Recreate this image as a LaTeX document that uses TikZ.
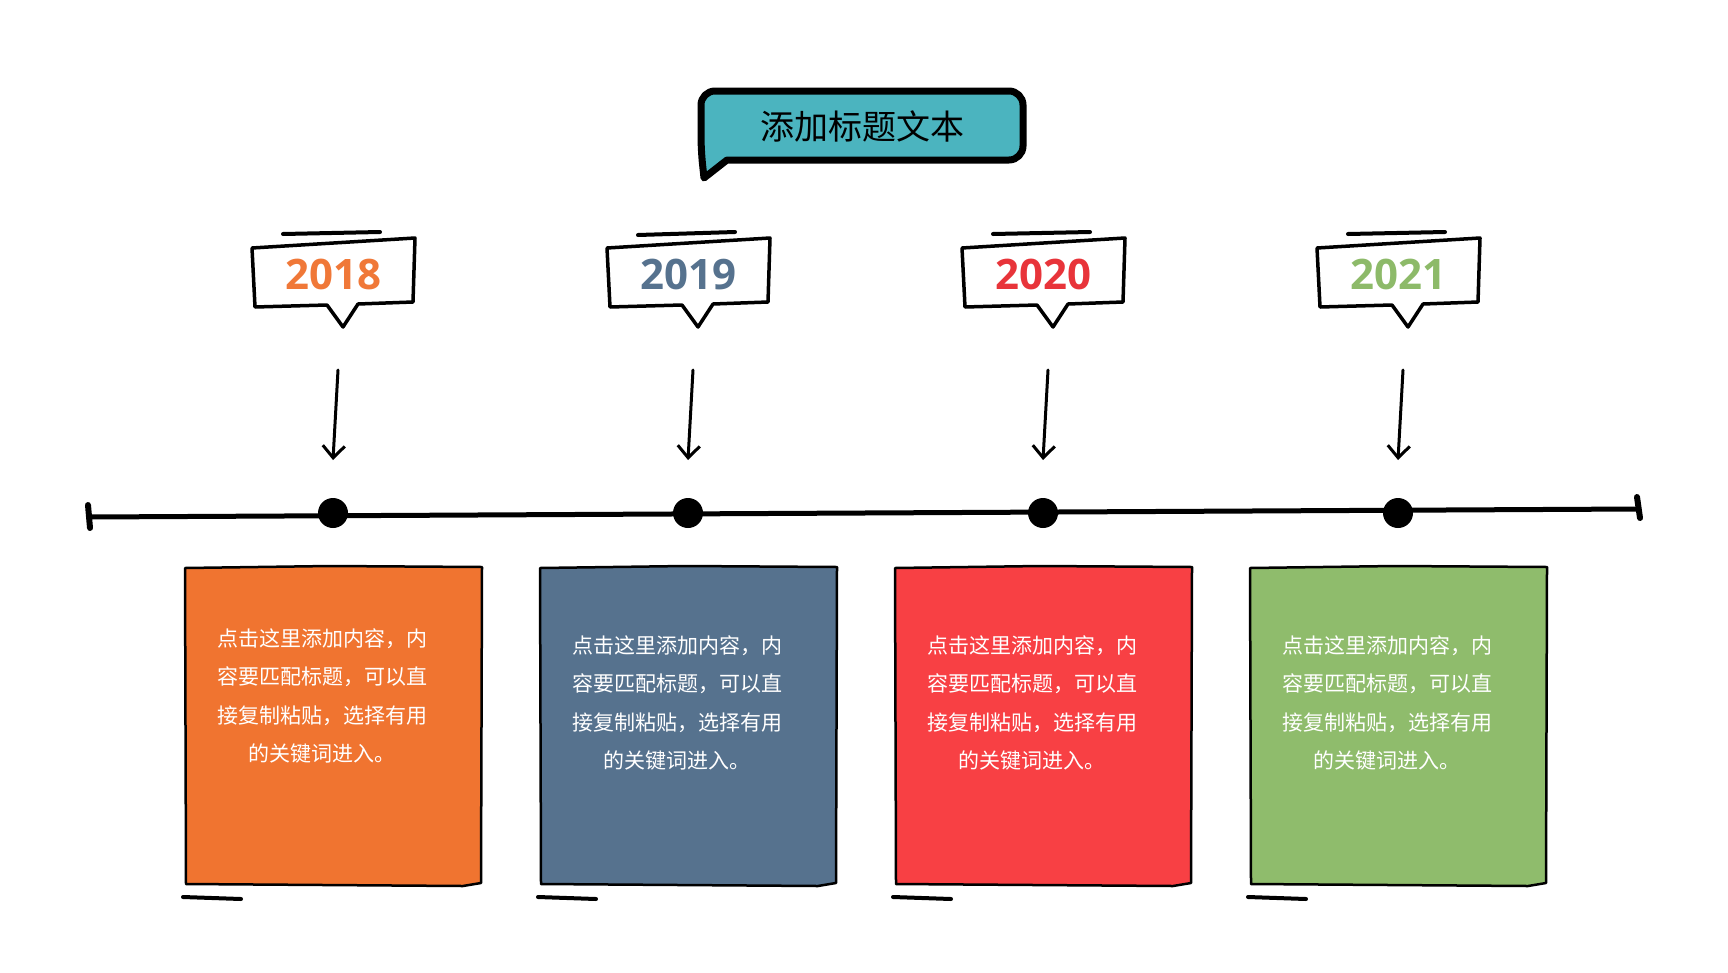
\documentclass[tikz,border=0pt]{standalone}
\usepackage{fontspec}
\usepackage{tikz}
\usetikzlibrary{arrows.meta}
\newfontfamily\cjk{Noto Sans CJK SC}
\newfontfamily\yearfont{Open Sans}
\definecolor{titlebg}{RGB}{75,180,191}
\definecolor{box1}{RGB}{240,116,48}
\definecolor{box2}{RGB}{86,114,142}
\definecolor{box3}{RGB}{248,64,68}
\definecolor{box4}{RGB}{143,188,108}
\definecolor{year1}{RGB}{240,120,56}
\definecolor{year2}{RGB}{86,114,142}
\definecolor{year3}{RGB}{232,52,58}
\definecolor{year4}{RGB}{141,186,105}

\begin{document}
\begin{tikzpicture}[x=1pt,y=-1pt]
      %styles for the hand drawn parts
      \tikzset{
      bubble/.style={draw=black, line width=7pt, line join=round, fill=titlebg},
      tag/.style={draw=black, line width=3.5pt, line join=round, fill=white},
      stroke/.style={line width=4pt, line cap=round},
      bar/.style={line width=5pt, line cap=round},
      pin/.style={line width=3pt, line cap=round, -{Straight Barb[length=12pt,width=22pt]}},
      dot/.style={circle, fill=black, minimum size=30pt, inner sep=0pt},
      card/.style={draw=black, line width=2.5pt, line join=round},
      year/.style={font=\yearfont\bfseries\fontsize{42}{42}\selectfont, inner sep=0pt},
      note/.style={text=white, align=center, inner sep=0pt, font=\cjk\fontsize{21}{38.5}\selectfont},
      }
      \useasboundingbox[fill=white] (0,0) rectangle (1728,972);

      %Title bubble
      \draw[bubble] (704,178) -- (727,160) [rounded corners=14pt] -- (1023,160) -- (1023,91) -- (701,91) -- (701,150) [sharp corners] -- cycle;
      \node[font=\cjk\fontsize{34}{34}\selectfont, inner sep=0pt] (title) at (862,126) {添加标题文本};

      %Timeline
      \coordinate (L) at (89,517);
      \coordinate (R) at (1638,509);
      \coordinate (L1) at (88,505);
      \coordinate (L2) at (90,528);
      \coordinate (R1) at (1637,497);
      \coordinate (R2) at (1640,518);
      \draw[bar] (L) -- (R);
      \draw[bar, line width=6pt] (L1) -- (L2);
      \draw[bar, line width=6pt] (R1) -- (R2);

      %Stage 1 - 2018
      \draw[tag] (252,248) -- (415,238) -- (413,302) -- (358,304) -- (343,327) -- (327,305) -- (255,307) -- cycle;
      \draw[stroke] (283,234) -- (380,232);
      \node[year, text=year1] (y1) at (333,274) {2018};
      \coordinate (a1) at (338,370);
      \coordinate (a1') at (333,460);
      \draw[pin] (a1) -- (a1');
      \node[dot] (d1) at (333,513) {};
      \draw[card, fill=box1] (185,568) -- (330,566) -- (482,567) -- (481,883) -- (463,886) -- (186,884) -- cycle;
      \draw[stroke] (183,897) -- (241,899);
      \node[note] (t1) at (322,696) {点击这里添加内容，内\\容要匹配标题，可以直\\接复制粘贴，选择有用\\的关键词进入。};

      %Stage 2 - 2019
      \draw[tag] (607,248) -- (770,238) -- (768,302) -- (713,304) -- (698,327) -- (682,305) -- (610,307) -- cycle;
      \draw[stroke] (638,235) -- (735,232);
      \node[year, text=year2] (y2) at (688,274) {2019};
      \coordinate (a2) at (693,370);
      \coordinate (a2') at (688,460);
      \draw[pin] (a2) -- (a2');
      \node[dot] (d2) at (688,513) {};
      \draw[card, fill=box2] (540,568) -- (685,566) -- (837,567) -- (836,883) -- (818,886) -- (541,884) -- cycle;
      \draw[stroke] (538,897) -- (596,899);
      \node[note] (t2) at (677,703) {点击这里添加内容，内\\容要匹配标题，可以直\\接复制粘贴，选择有用\\的关键词进入。};

      %Stage 3 - 2020
      \draw[tag] (962,248) -- (1125,238) -- (1123,302) -- (1068,304) -- (1053,327) -- (1037,305) -- (965,307) -- cycle;
      \draw[stroke] (993,234) -- (1090,232);
      \node[year, text=year3] (y3) at (1043,274) {2020};
      \coordinate (a3) at (1048,370);
      \coordinate (a3') at (1043,460);
      \draw[pin] (a3) -- (a3');
      \node[dot] (d3) at (1043,513) {};
      \draw[card, fill=box3] (895,568) -- (1040,566) -- (1192,567) -- (1191,883) -- (1173,886) -- (896,884) -- cycle;
      \draw[stroke] (893,897) -- (951,899);
      \node[note] (t3) at (1032,703) {点击这里添加内容，内\\容要匹配标题，可以直\\接复制粘贴，选择有用\\的关键词进入。};

      %Stage 4 - 2021
      \draw[tag] (1317,248) -- (1480,238) -- (1478,302) -- (1423,304) -- (1408,327) -- (1392,305) -- (1320,307) -- cycle;
      \draw[stroke] (1348,234) -- (1445,232);
      \node[year, text=year4] (y4) at (1398,274) {2021};
      \coordinate (a4) at (1403,370);
      \coordinate (a4') at (1398,460);
      \draw[pin] (a4) -- (a4');
      \node[dot] (d4) at (1398,513) {};
      \draw[card, fill=box4] (1250,568) -- (1395,566) -- (1547,567) -- (1546,883) -- (1528,886) -- (1251,884) -- cycle;
      \draw[stroke] (1248,897) -- (1306,899);
      \node[note] (t4) at (1387,703) {点击这里添加内容，内\\容要匹配标题，可以直\\接复制粘贴，选择有用\\的关键词进入。};
\end{tikzpicture}
\end{document}
